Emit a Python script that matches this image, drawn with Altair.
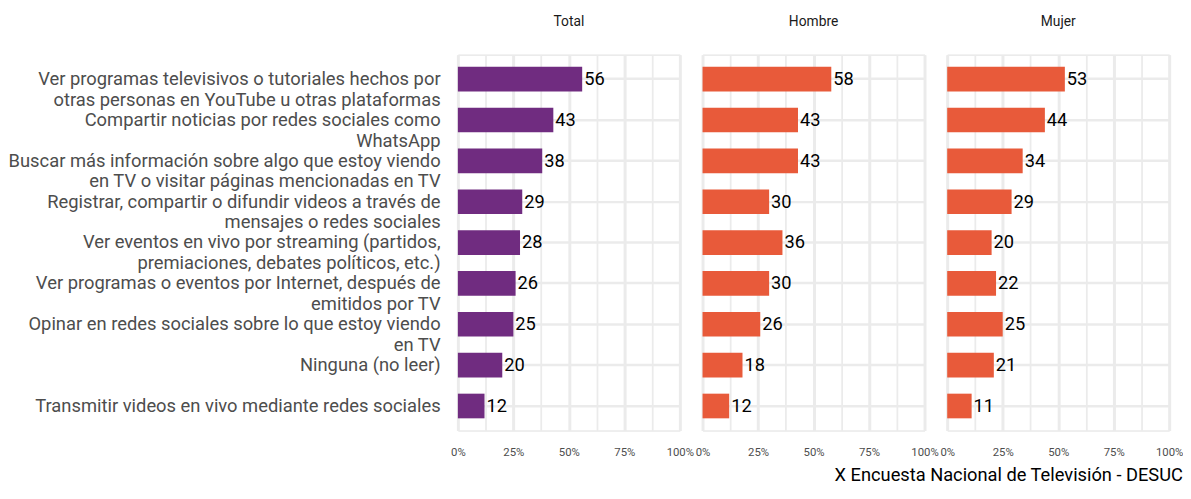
import altair as alt
import pandas as pd

categories = [
    "Ver programas televisivos o tutoriales hechos por|otras personas en YouTube u otras plataformas",
    "Compartir noticias por redes sociales como|WhatsApp",
    "Buscar más información sobre algo que estoy viendo|en TV o visitar páginas mencionadas en TV",
    "Registrar, compartir o difundir videos a través de|mensajes o redes sociales",
    "Ver eventos en vivo por streaming (partidos,|premiaciones, debates políticos, etc.)",
    "Ver programas o eventos por Internet, después de|emitidos por TV",
    "Opinar en redes sociales sobre lo que estoy viendo|en TV",
    "Ninguna (no leer)",
    "Transmitir videos en vivo mediante redes sociales",
]
groups = ["Total", "Hombre", "Mujer"]
total = [56, 43, 38, 29, 28, 26, 25, 20, 12]
hombre = [58, 43, 43, 30, 36, 30, 26, 18, 12]
mujer = [53, 44, 34, 29, 20, 22, 25, 21, 11]
colors = ["#702C80", "#E85A3A", "#E85A3A"]
caption = "X Encuesta Nacional de Televisión - DESUC"
minor_vals = [0, 12.5, 25, 37.5, 50, 62.5, 75, 87.5, 100]
major_vals = [0, 25, 50, 75, 100]

rows = []
for g, vals in zip(groups, [total, hombre, mujer]):
    for c, v in zip(categories, vals):
        rows.append({"grupo": g, "categoria": c, "valor": v})
df = pd.DataFrame(rows)

xscale = alt.Scale(domain=[0, 100], nice=False, zero=True)

base = alt.Chart().encode(
    y=alt.Y(
        "categoria:N",
        sort=categories,
        title=None,
        scale=alt.Scale(paddingInner=0.4, paddingOuter=0.3),
        axis=alt.Axis(
            labelExpr="split(datum.label, '|')",
            labelFont="Roboto",
            labelFontSize=18.6,
            labelColor="#4d4d4d",
            labelLineHeight=21,
            labelPadding=17,
            labelLimit=700,
            ticks=False,
            domain=False,
            grid=True,
            bandPosition=0.5,
            gridColor="#ebebeb",
            gridWidth=2.5,
        ),
    ),
)

bars = base.mark_bar(size=25).encode(
    x=alt.X(
        "valor:Q",
        title=None,
        scale=xscale,
        axis=alt.Axis(
            values=minor_vals,
            labelExpr="datum.value % 25 == 0 ? datum.value + '%' : ''",
            labelFont="Roboto",
            labelFontSize=11.5,
            labelColor="#4d4d4d",
            labelPadding=15,
            labelFlush=False,
            labelOverlap=False,
            ticks=False,
            domain=False,
            grid=True,
            gridColor="#ebebeb",
            gridWidth=1.8,
        ),
    ),
    color=alt.Color(
        "grupo:N",
        scale=alt.Scale(domain=groups, range=colors),
        legend=None,
    ),
)

labels = base.mark_text(
    align="left", baseline="middle", dx=2, font="Roboto", fontSize=18.5, color="#000000"
).encode(
    x=alt.X(
        "valor:Q",
        title=None,
        scale=xscale,
        axis=alt.Axis(
            orient="top",
            values=major_vals,
            labels=False,
            ticks=False,
            domain=False,
            grid=True,
            gridColor="#ebebeb",
            gridWidth=3,
        ),
    ),
    text=alt.Text("valor:Q"),
)

chart = (
    alt.layer(bars, labels, data=df)
    .resolve_axis(x="independent")
    .properties(width=225, height=381)
    .facet(
        column=alt.Column(
            "grupo:N",
            sort=groups,
            title=None,
            header=alt.Header(
                labelOrient="top",
                labelFont="Roboto",
                labelFontSize=14,
                labelColor="#1a1a1a",
                labelPadding=25,
            ),
        ),
        spacing=21,
    )
    .properties(
        title=alt.TitleParams(
            caption,
            orient="bottom",
            anchor="end",
            font="Roboto",
            fontSize=18.5,
            fontWeight="normal",
            color="#000000",
            offset=9,
        ),
        padding={"left": 0, "top": 4, "right": 0, "bottom": 0},
    )
    .configure_view(stroke=None)
    .configure(background="white")
)

chart.save("out.html", embed_options={"renderer": "svg", "actions": False})
